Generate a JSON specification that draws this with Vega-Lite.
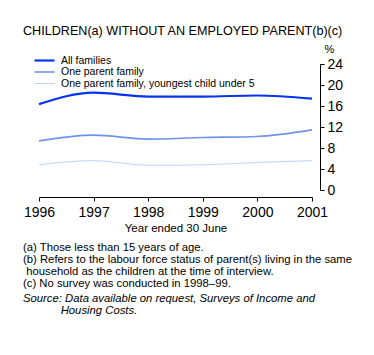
{
  "$schema": "https://vega.github.io/schema/vega-lite/v6.json",
  "autosize": {"type": "pad"},
  "padding": {"left": 23, "top": 24, "right": 0, "bottom": 0},
  "background": "white",
  "config": {
    "font": "Liberation Sans",
    "view": {"stroke": null},
    "title": {"font": "Liberation Sans", "fontWeight": "normal", "color": "black"}
  },
  "title": {
    "text": "CHILDREN(a) WITHOUT AN EMPLOYED PARENT(b)(c)",
    "orient": "top",
    "anchor": "start",
    "frame": "group",
    "fontSize": 12.6,
    "dx": -16,
    "offset": 5.5
  },
  "vconcat": [
    {
      "width": 273,
      "height": 126,
      "title": {
        "text": [
          "(a) Those less than 15 years of age.",
          "(b) Refers to the labour force status of parent(s) living in the same",
          "\u200b household as the children at the time of interview.",
          "(c) No survey was conducted in 1998–99."
        ],
        "subtitle": [
          "Source: Data available on request, Surveys of Income and",
          "\u200b\u00a0\u00a0\u00a0\u00a0\u00a0\u00a0\u00a0\u00a0\u00a0\u00a0\u00a0\u00a0Housing Costs."
        ],
        "orient": "bottom",
        "anchor": "start",
        "frame": "group",
        "dx": -16,
        "offset": 8.5,
        "fontSize": 11.3,
        "lineHeight": 12,
        "subtitleFontSize": 11.3,
        "subtitleFontStyle": "italic",
        "subtitleColor": "black",
        "subtitleLineHeight": 12,
        "subtitlePadding": 4,
        "subtitleFont": "Liberation Sans"
      },
      "data": {
        "values": [
          {"series": "All families", "year": 1996, "value": 16.35},
          {"series": "All families", "year": 1997, "value": 18.55},
          {"series": "All families", "year": 1998, "value": 17.8},
          {"series": "All families", "year": 1999, "value": 17.8},
          {"series": "All families", "year": 2000, "value": 18.0},
          {"series": "All families", "year": 2001, "value": 17.4},
          {"series": "One parent family", "year": 1996, "value": 9.35},
          {"series": "One parent family", "year": 1997, "value": 10.45},
          {"series": "One parent family", "year": 1998, "value": 9.7},
          {"series": "One parent family", "year": 1999, "value": 10.0},
          {"series": "One parent family", "year": 2000, "value": 10.2},
          {"series": "One parent family", "year": 2001, "value": 11.45},
          {"series": "One parent family, youngest child under 5", "year": 1996, "value": 4.8},
          {"series": "One parent family, youngest child under 5", "year": 1997, "value": 5.6},
          {"series": "One parent family, youngest child under 5", "year": 1998, "value": 4.7},
          {"series": "One parent family, youngest child under 5", "year": 1999, "value": 4.8},
          {"series": "One parent family, youngest child under 5", "year": 2000, "value": 5.25},
          {"series": "One parent family, youngest child under 5", "year": 2001, "value": 5.6}
        ]
      },
      "mark": {"type": "line", "interpolate": "monotone"},
      "encoding": {
        "x": {
          "field": "year",
          "type": "quantitative",
          "scale": {"domain": [1996, 2001], "nice": false, "zero": false},
          "axis": {
            "values": [1996, 1997, 1998, 1999, 2000, 2001],
            "format": "d",
            "title": "Year ended 30 June",
            "titleFontSize": 11.5,
            "titleFontWeight": "normal",
            "titleColor": "black",
            "titlePadding": 3,
            "labelFontSize": 14,
            "labelColor": "black",
            "labelPadding": 4,
            "labelFlush": false,
            "grid": false,
            "offset": 7,
            "domainColor": "black",
            "tickColor": "black",
            "tickSize": 4
          }
        },
        "y": {
          "field": "value",
          "type": "quantitative",
          "scale": {"domain": [0, 24], "nice": false},
          "axis": {
            "orient": "right",
            "values": [0, 4, 8, 12, 16, 20, 24],
            "title": "%",
            "titleAngle": 0,
            "titleAlign": "left",
            "titleBaseline": "bottom",
            "titleX": 4,
            "titleY": -10,
            "titleFontSize": 11,
            "titleFontWeight": "normal",
            "titleColor": "black",
            "labelFontSize": 14,
            "labelColor": "black",
            "labelPadding": 3,
            "grid": false,
            "offset": 8,
            "domainColor": "black",
            "tickColor": "black",
            "tickSize": 4
          }
        },
        "color": {
          "field": "series",
          "type": "nominal",
          "scale": {
            "domain": ["All families", "One parent family", "One parent family, youngest child under 5"],
            "range": ["#0533f0", "#7094ee", "#c0d2f8"]
          },
          "legend": {
            "title": null,
            "orient": "none",
            "legendX": -1,
            "legendY": -10,
            "symbolType": "M-2,0H2",
            "symbolSize": 100,
            "labelFontSize": 10.5,
            "labelColor": "black",
            "labelOffset": 10,
            "labelLimit": 400,
            "rowPadding": 0,
            "padding": 0
          }
        },
        "strokeWidth": {
          "field": "series",
          "type": "nominal",
          "scale": {
            "domain": ["All families", "One parent family", "One parent family, youngest child under 5"],
            "range": [2.2, 1, 2.2]
          },
          "legend": {
            "title": null,
            "orient": "none",
            "legendX": -1,
            "legendY": -10,
            "symbolType": "M-2,0H2",
            "symbolSize": 100,
            "labelFontSize": 10.5,
            "labelColor": "black",
            "labelOffset": 10,
            "labelLimit": 400,
            "rowPadding": 0,
            "padding": 0
          }
        }
      }
    }
  ]
}
